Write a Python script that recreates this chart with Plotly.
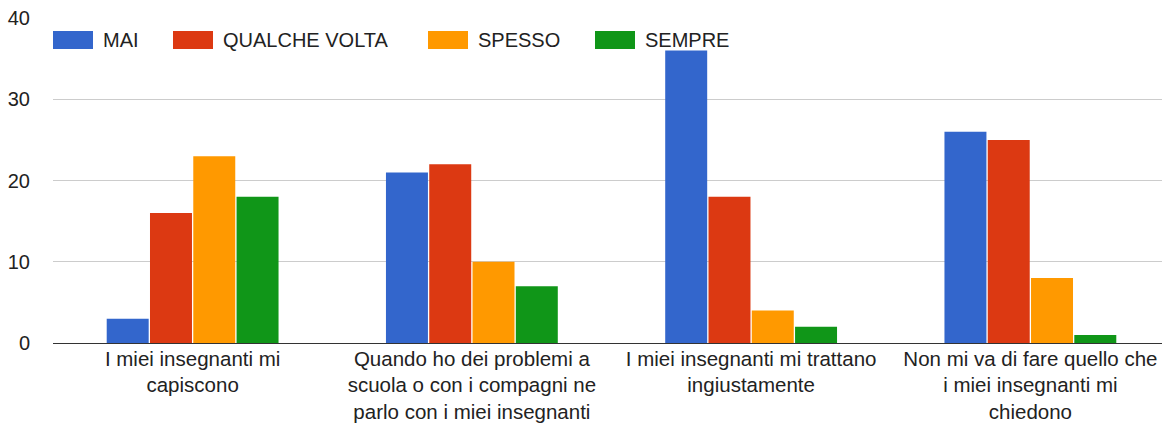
import plotly.graph_objects as go

categories = [
    "I miei insegnanti mi<br>capiscono",
    "Quando ho dei problemi a<br>scuola o con i compagni ne<br>parlo con i miei insegnanti",
    "I miei insegnanti mi trattano<br>ingiustamente",
    "Non mi va di fare quello che<br>i miei insegnanti mi<br>chiedono",
]
series_names = ["MAI", "QUALCHE VOLTA", "SPESSO", "SEMPRE"]
mai = [3, 21, 36, 26]
qualche_volta = [16, 22, 18, 25]
spesso = [23, 10, 4, 8]
sempre = [18, 7, 2, 1]
series_values = [mai, qualche_volta, spesso, sempre]
colors = ["#3366CC", "#DC3912", "#FF9900", "#109618"]
y_ticks = [0, 10, 20, 30, 40]

W, H = 1162, 424
PL, PR, PT, PB = 53, 1162, 18, 343          # plot area in page pixels
ML, MR, MT, MB = PL, W - PR, PT, H - PB
FONT = "Liberation Sans, Arial, sans-serif"
TXT = "#222222"

fig = go.Figure()
for name, vals, col in zip(series_names, series_values, colors):
    fig.add_trace(go.Bar(
        name=name, x=categories, y=vals,
        marker=dict(color=col, line=dict(width=0)),
        showlegend=False,
    ))

pw = PR - PL
ph = PB - PT
def px_x(p):
    return (p - PL) / pw
def px_y(p):
    return (PB - p) / ph

# custom legend (layout decoration), page pixel positions
legend_starts = [53, 173, 428, 595]
shapes = []
annotations = []
for name, col, sx in zip(series_names, colors, legend_starts):
    shapes.append(dict(type="rect", xref="paper", yref="paper",
                       x0=px_x(sx), x1=px_x(sx + 40), y0=px_y(49), y1=px_y(31),
                       fillcolor=col, line=dict(width=0), layer="above"))
    annotations.append(dict(xref="paper", yref="paper", x=px_x(sx + 48), y=px_y(40),
                            xanchor="left", yanchor="middle", showarrow=False,
                            text=name, font=dict(family=FONT, size=20, color=TXT)))

fig.update_layout(
    width=W, height=H,
    margin=dict(l=ML, r=MR, t=MT, b=MB, pad=0, autoexpand=False),
    paper_bgcolor="white", plot_bgcolor="white",
    barmode="group", bargap=0.38, bargroupgap=0.03,
    shapes=shapes, annotations=annotations,
    font=dict(family=FONT, size=20, color=TXT),
    hovermode=False,
)
fig.update_xaxes(
    range=[-0.5, -0.5 + pw / 279.25],
    showline=True, linecolor="#333333", linewidth=1,
    showgrid=False, ticks="", tickfont=dict(size=20.5, color=TXT),
    ticklabelstandoff=-3, automargin=False, ticklabeloverflow="allow",
    fixedrange=True,
)
fig.update_yaxes(
    range=[0, 40], tickvals=y_ticks,
    showgrid=True, gridcolor="#cccccc", gridwidth=1,
    zeroline=False, showline=False, ticks="",
    ticklabelstandoff=22, automargin=False, ticklabeloverflow="allow",
    tickfont=dict(size=20, color=TXT), fixedrange=True,
)
fig.write_html(
    "out.html",
    config={"displayModeBar": False},
    post_script="document.body.style.margin='0';document.body.style.overflow='hidden';",
)
